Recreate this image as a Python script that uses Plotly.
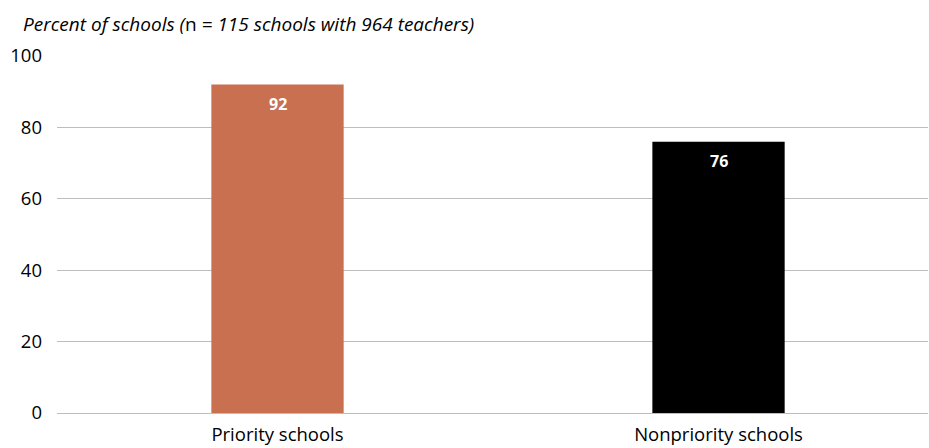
import plotly.graph_objects as go

categories = ["Priority schools", "Nonpriority schools"]
values = [92, 76]
colors = ["#C8704F", "#000000"]
y_ticks = [0, 20, 40, 60, 80, 100]
title_text = "<i>Percent of schools (</i>n<i> = 115 schools with 964 teachers)</i>"

FONT = "Open Sans"

fig = go.Figure()
fig.add_trace(go.Bar(
    x=categories, y=values, marker=dict(color=colors, line=dict(width=0)),
    width=0.3, hoverinfo="skip",
))
for c, v in zip(categories, values):
    fig.add_annotation(x=c, y=v, text=f"<b>{v}</b>", showarrow=False,
                       yanchor="top", yshift=-6,
                       font=dict(family=FONT, size=16, color="white"))

fig.add_annotation(xref="paper", yref="paper", x=-0.041, y=1.0, yshift=32,
                   xanchor="left", yanchor="middle", text=title_text,
                   showarrow=False, font=dict(family=FONT, size=19, color="#000"))

fig.update_layout(
    width=929, height=448,
    margin=dict(l=57, r=1, t=56, b=35),
    paper_bgcolor="white", plot_bgcolor="white",
    showlegend=False,
    font=dict(family=FONT, size=19, color="#000"),
    xaxis=dict(range=[-0.5, 1.475], showgrid=False, zeroline=False,
               showline=False, ticks="", tickfont=dict(size=18.5),
               ticklabelstandoff=8),
    yaxis=dict(range=[0, 100], tickvals=y_ticks, showgrid=True,
               gridcolor="#BDBDBD", gridwidth=1, zeroline=True,
               zerolinecolor="#BDBDBD", zerolinewidth=1, showline=False,
               ticks="", ticklabelstandoff=14, tickfont=dict(size=18.5)),
)
fig.write_html("out.html")
